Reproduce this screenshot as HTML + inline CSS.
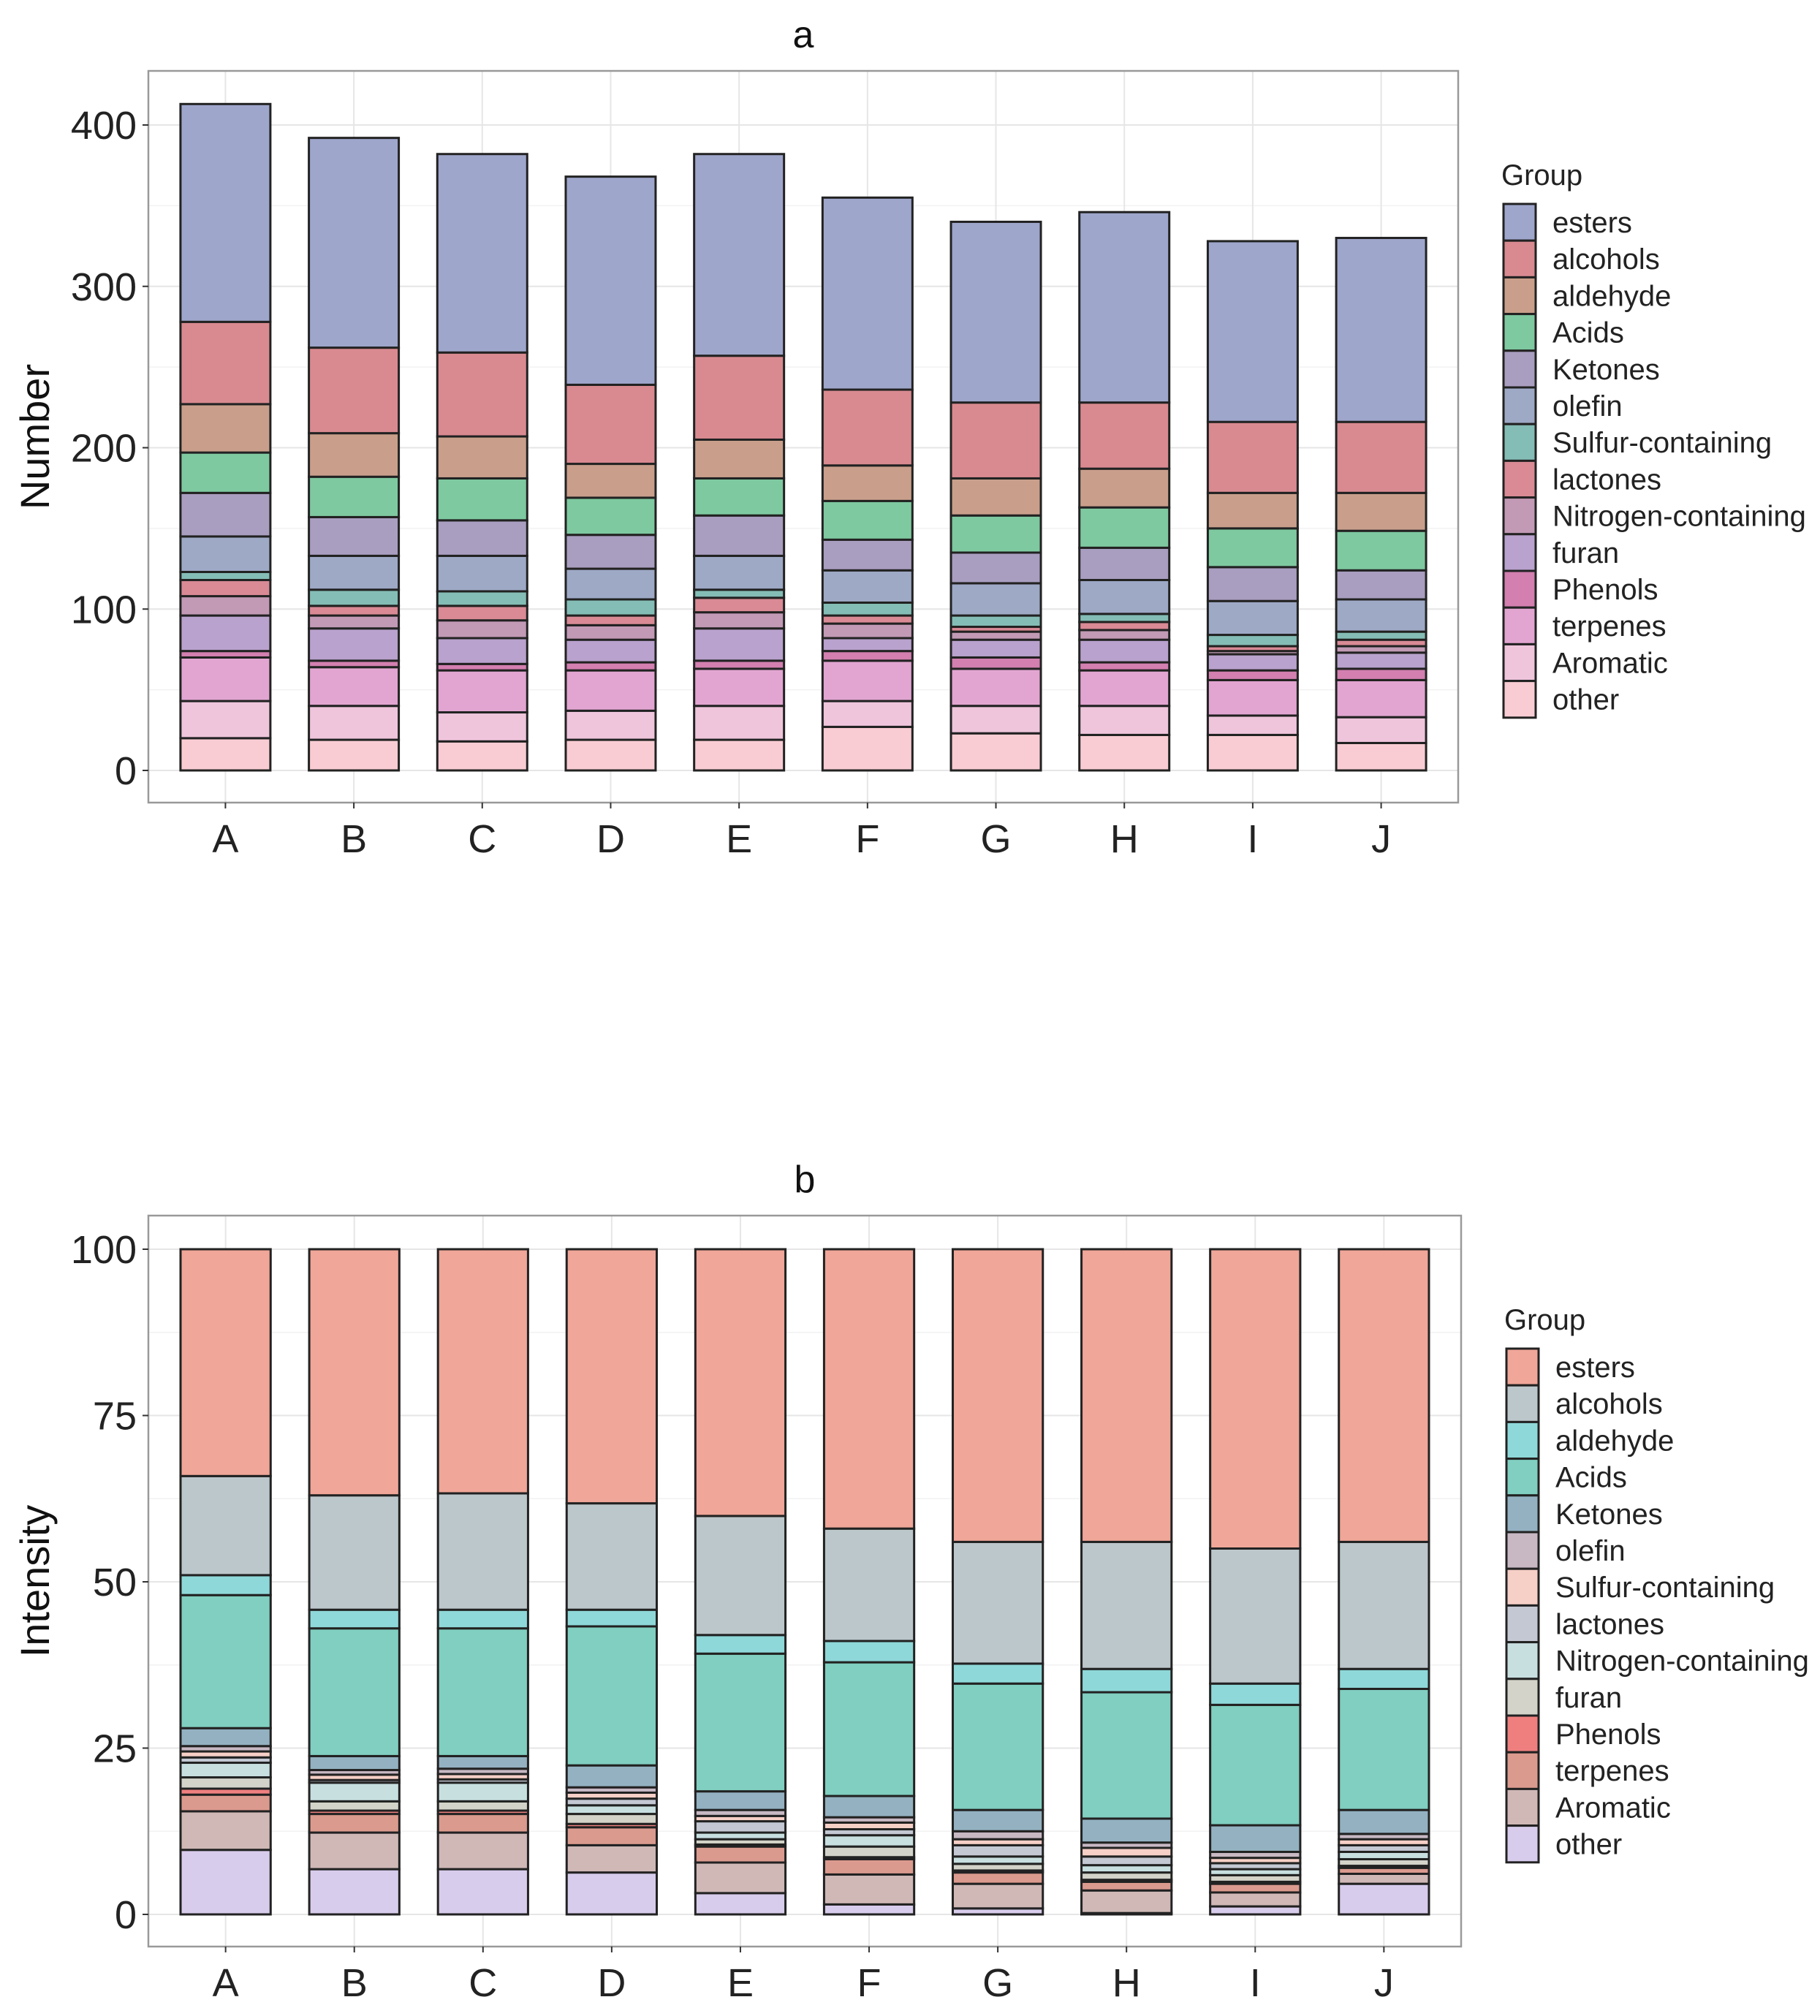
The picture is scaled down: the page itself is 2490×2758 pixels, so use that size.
<!DOCTYPE html>
<html><head><meta charset="utf-8"><style>
html,body{margin:0;padding:0;background:#fff;}
svg{display:block;font-family:"Liberation Sans",Arial,sans-serif;}
</style></head><body>
<svg id="root" width="2490" height="2758" viewBox="0 0 2490 2758" xmlns="http://www.w3.org/2000/svg"></svg>
<script>
const categories = ["A","B","C","D","E","F","G","H","I","J"];
const groups = ["esters","alcohols","aldehyde","Acids","Ketones","olefin","Sulfur-containing","lactones","Nitrogen-containing","furan","Phenols","terpenes","Aromatic","other"];
// Chart a values (Number), per group, per category A..J
const aEsters   = [135,130,123,129,125,119,112,118,112,114];
const aAlcohols = [51,53,52,49,52,47,47,41,44,44];
const aAldehyde = [30,27,26,21,24,22,23,24,22,23.5];
const aAcids    = [25,25,26,23,23,24,23,25,24,24.5];
const aKetones  = [27,24,22,21,25,19,19,20,21,18];
const aOlefin   = [22,21,22,19,21,20,20,21,21,20];
const aSulfur   = [5,10,9,10,5,8,7,5,7,5];
const aLactones = [10,6,9,6,9,5,3,5,3,4];
const aNitrogen = [12,8,11,9,10,9,5,6,2,4];
const aFuran    = [22,20,16,14,20,8,11,14,10,10];
const aPhenols  = [4,4,4,5,5,6,7,5,6,7];
const aTerpenes = [27,24,26,25,23,25,23,22,22,23];
const aAromatic = [23,21,18,18,21,16,17,18,12,16];
const aOther    = [20,19,18,19,19,27,23,22,22,17];
// Chart b values (Intensity %)
const bEsters   = [34.1,37,36.7,38.2,40.1,42,44,44,45,44];
const bAlcohols = [14.9,17.2,17.5,16,17.9,16.9,18.3,19.1,20.3,19.1];
const bAldehyde = [3,2.8,2.8,2.5,2.8,3.2,3,3.5,3.2,3];
const bAcids    = [20,19.2,19.2,20.9,20.7,20.1,19,19,18.1,18.2];
const bKetones  = [2.7,2.1,1.9,3.3,2.8,3.2,3.2,3.6,4,3.6];
const bOlefin   = [0.8,0.7,0.8,0.8,0.9,0.8,1.2,0.8,0.9,0.8];
const bSulfur   = [0.9,0.8,0.8,0.9,0.8,1,0.9,1.3,0.8,0.9];
const bLactones = [0.8,0.4,0.5,1,1.7,0.9,1.7,1.3,0.9,1];
const bNitrogen = [2.2,2.8,2.8,1.3,1,1.7,1.1,1.1,0.9,1.1];
const bFuran    = [1.7,1.4,1.4,1.5,0.8,1.6,1,1.1,1,1];
const bPhenols  = [0.9,0.5,0.5,0.5,0.3,0.3,0.3,0.3,0.3,0.3];
const bTerpenes = [2.5,2.8,2.8,2.7,2.4,2.3,1.7,1.3,1.3,0.9];
const bAromatic = [5.8,5.5,5.5,4.1,4.6,4.5,3.7,3.4,2.1,1.5];
const bOther    = [9.7,6.8,6.8,6.3,3.2,1.5,0.9,0.2,1.2,4.6];
const aTicks = [0,100,200,300,400];
const bTicks = [0,25,50,75,100];

const colorsA = ["#9fa6cc","#d98a90","#c99f8b","#7ec9a0","#a99ec0","#9ea9c6","#84bdb5","#d98a95","#c29ab5","#b9a2cd","#d37fb0","#e2a5d1","#efc5dc","#f9ccd3"];
const colorsB = ["#f0a698","#bcc7cb","#8ed8d9","#80cfc0","#93b1c1","#c7b8c3","#f6cfc6","#c3c8d3","#c8dfe0","#d3d3c9","#ef7f7f","#db9a8e","#cfb8b6","#d8ccec"];
const seriesA = [aEsters,aAlcohols,aAldehyde,aAcids,aKetones,aOlefin,aSulfur,aLactones,aNitrogen,aFuran,aPhenols,aTerpenes,aAromatic,aOther];
const seriesB = [bEsters,bAlcohols,bAldehyde,bAcids,bKetones,bOlefin,bSulfur,bLactones,bNitrogen,bFuran,bPhenols,bTerpenes,bAromatic,bOther];

const NS="http://www.w3.org/2000/svg";
const root=document.getElementById('root');
function mk(tag,attrs,parent){const e=document.createElementNS(NS,tag);for(const k in attrs)e.setAttribute(k,attrs[k]);(parent||root).appendChild(e);return e;}

function chart(cfg){
  const g=mk('g',{});
  
  
  const L=203,R=cfg.right,T=cfg.top,B=cfg.bottom;
  const yScale=v=>cfg.y0-(v-0)*(cfg.y0-cfg.yMax)/cfg.maxV;
  const step=(R-L)/10.2;
  const xScale=i=>L+(i+0.6)*step;
  const bw=step*0.7;
  const t=mk('text',{x:(L+R)/2,y:T-32,'text-anchor':'middle','font-size':52,fill:'#111'},g);
  t.textContent=cfg.title;
  
  
  mk('rect',{x:L,y:T,width:R-L,height:B-T,fill:'#fff'},g);
  const minor=[];
  for(let k=0;k<cfg.ticks.length-1;k++)minor.push((cfg.ticks[k]+cfg.ticks[k+1])/2);
  minor.forEach(v=>mk('line',{x1:L,x2:R,y1:yScale(v),y2:yScale(v),stroke:'#f2f2f2','stroke-width':1.5},g));
  cfg.ticks.forEach(v=>mk('line',{x1:L,x2:R,y1:yScale(v),y2:yScale(v),stroke:'#e6e6e6','stroke-width':2},g));
  categories.forEach((c,i)=>mk('line',{x1:xScale(i),x2:xScale(i),y1:T,y2:B,stroke:'#e6e6e6','stroke-width':2},g));
  categories.forEach((c,i)=>{
    let cum=0;
    const n=cfg.series.length;
    for(let s=n-1;s>=0;s--){
      const v=cfg.series[s][i];
      const y1=yScale(cum), y2=yScale(cum+v);
      const r=mk('rect',{x:xScale(i)-bw/2,y:y2,width:bw,height:Math.max(0,y1-y2),fill:cfg.colors[s],stroke:'#222','stroke-width':3},g);
      
      
      cum+=v;
    }
  });
  mk('rect',{x:L,y:T,width:R-L,height:B-T,fill:'none',stroke:'#999','stroke-width':2.5},g);
  cfg.ticks.forEach(v=>{
    mk('line',{x1:L-8,x2:L,y1:yScale(v),y2:yScale(v),stroke:'#333','stroke-width':2},g);
    const tt=mk('text',{x:L-16,y:yScale(v)+19,'text-anchor':'end','font-size':54,fill:'#222'},g);
    tt.textContent=v;
    
    
  });
  categories.forEach((c,i)=>{
    mk('line',{x1:xScale(i),x2:xScale(i),y1:B,y2:B+8,stroke:'#333','stroke-width':2},g);
    const tt=mk('text',{x:xScale(i),y:B+68,'text-anchor':'middle','font-size':54,fill:'#222'},g);
    tt.textContent=c;
    
    
  });
  const yt=mk('text',{x:0,y:0,'text-anchor':'middle','font-size':56,fill:'#111',transform:`translate(67,${(T+B)/2}) rotate(-90)`},g);
  yt.textContent=cfg.yTitle;
  
  
  const lg=mk('g',{},g);
  
  
  const gt=mk('text',{x:cfg.legX-3,y:cfg.legTop-26,'font-size':40,fill:'#222'},lg);
  gt.textContent='Group';
  groups.forEach((name,s)=>{
    const y=cfg.legTop+s*50.2;
    const r=mk('rect',{x:cfg.legX,y:y,width:44,height:50.2,fill:cfg.colors[s],stroke:'#222','stroke-width':3},lg);
    
    
    const tx=mk('text',{x:cfg.legX+67,y:y+39,'font-size':40,fill:'#222'},lg);
    tx.textContent=name;
    
    
  });
}
chart({name:'chart-a-number',title:'a',top:97,bottom:1098,right:1995,y0:1054,yMax:171,maxV:400,ticks:aTicks,series:seriesA,colors:colorsA,yTitle:'Number',legX:2057,legTop:279});
chart({name:'chart-b-intensity',title:'b',top:1663,bottom:2663,right:1999,y0:2619,yMax:1709,maxV:100,ticks:bTicks,series:seriesB,colors:colorsB,yTitle:'Intensity',legX:2061,legTop:1845});
</script>
</body></html>
